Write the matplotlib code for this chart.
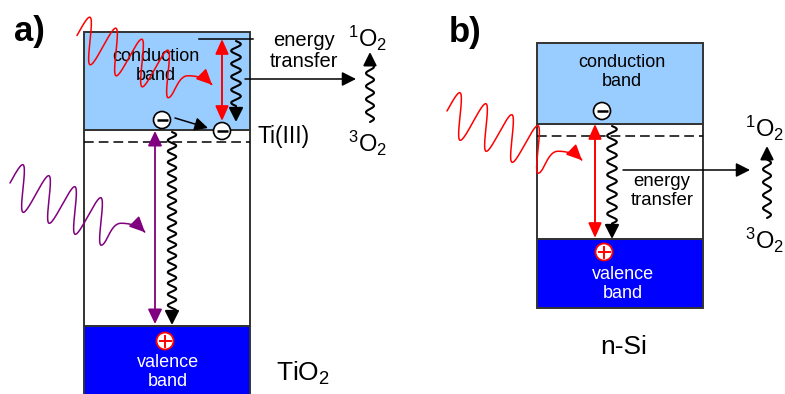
# band diagrams: TiO2 (a) vs n-Si (b), singlet oxygen generation
import numpy as np
import matplotlib.pyplot as plt
from matplotlib.patches import Rectangle, Circle, FancyArrowPatch, ArrowStyle
from matplotlib.path import Path

plt.rcParams['font.family'] = ['Liberation Sans', 'DejaVu Sans']
plt.rcParams['mathtext.fontset'] = 'custom'
plt.rcParams['mathtext.rm'] = 'Liberation Sans'
plt.rcParams['mathtext.it'] = 'Liberation Sans:italic'
plt.rcParams['mathtext.bf'] = 'Liberation Sans:bold'
plt.rcParams['lines.scale_dashes'] = False

# panel data (drawing units = pixel rows/cols of the figure)
panel_labels = ['a)', 'b)']
materials = ['TiO$_2$', 'n-Si']
box_left = [84, 537]
box_right = [250, 703]
cb_top = [32, 43]
cb_bottom = [130, 124]
vb_top = [326, 239]
vb_bottom = [400, 308]
trap_level = [142, 136]
photon_colors = ['#FF0000', '#800080', '#FF0000']

CB_COLOR = '#99CCFF'
VB_COLOR = '#0000FF'
EDGE = '#333333'
RED = '#FF0000'
PURPLE = '#800080'


def head(length=8.5, width=4.3, style='-|>'):
    return ArrowStyle(style, head_length=length, head_width=width)


def arrow(ax, p0, p1, color='black', lw=1.2, style='-|>', hl=8.5, hw=4.3):
    ax.add_patch(FancyArrowPatch(p0, p1, arrowstyle=head(hl, hw, style),
                                 color=color, lw=lw, shrinkA=0, shrinkB=0,
                                 mutation_scale=1, zorder=5))


def wavy_arrow(ax, x, y_from, y_to, amp=4.5, period=12, lw=1.5, hl=8.5, hw=4.3):
    L = abs(y_to - y_from)
    sgn = np.sign(y_to - y_from)
    n = int((L - hl - 2) / (period / 2))
    s = np.linspace(0, n * period / 2, 400)
    xs = x + amp * np.sin(2 * np.pi * s / period)
    ys = y_from + sgn * s
    xs = np.append(xs, x)
    ys = np.append(ys, y_to)
    p = Path(np.column_stack([xs, ys]))
    ax.add_patch(FancyArrowPatch(path=p, arrowstyle=head(hl, hw), color='black',
                                 lw=lw, mutation_scale=1, zorder=5))


def bezier(p0, p1, p2, p3, n=60):
    t = np.linspace(0, 1, n)[:, None]
    return ((1 - t) ** 3 * np.array(p0) + 3 * (1 - t) ** 2 * t * np.array(p1)
            + 3 * (1 - t) * t ** 2 * np.array(p2) + t ** 3 * np.array(p3))


def photon(ax, x0, y0, color, P=26, D=11, A=21, ncyc=3.75):
    t = np.linspace(0, ncyc, 500)
    x = x0 + P * t + P / 4 * np.sin(2 * np.pi * t)
    y = y0 + D * t - A * np.sin(2 * np.pi * t)
    T = np.array([x[-1], y[-1]])
    seg1 = bezier(T, T + [6, 0], T + [9, -22], T + [20, -22])
    seg2 = bezier(T + [20, -22], T + [30, -22], T + [38, -19], T + [44, -13])
    pts = np.vstack([np.column_stack([x, y]), seg1[1:], seg2[1:]])
    ax.add_patch(FancyArrowPatch(path=Path(pts), arrowstyle=head(9.5, 4.5),
                                 color=color, lw=1.1, mutation_scale=1, zorder=6))


def electron(ax, x, y, r=8.5):
    ax.add_patch(Circle((x, y), r, facecolor='white', edgecolor='black', lw=1.2, zorder=7))
    ax.plot([x - 5.5, x + 5.5], [y, y], color='black', lw=1.8, zorder=8,
            solid_capstyle='butt')


def hole(ax, x, y, r=8.5):
    ax.add_patch(Circle((x, y), r, facecolor='white', edgecolor=RED, lw=1.3, zorder=7))
    ax.plot([x - 5.5, x + 5.5], [y, y], color=RED, lw=1.4, zorder=8)
    ax.plot([x, x], [y - 5.5, y + 5.5], color=RED, lw=1.4, zorder=8)


def o2_label(ax, x, y, spin):
    ax.text(x, y, r'$^{%d}\mathrm{O}_{2}$' % spin, fontsize=17, ha='center', va='center')


fig = plt.figure(figsize=(7.85, 3.94), dpi=100)
ax = fig.add_axes([0, 0, 1, 1])
ax.set_xlim(0, 785)
ax.set_ylim(394, 0)
ax.axis('off')

# band boxes
for i in range(2):
    L, R = box_left[i], box_right[i]
    W = R - L
    ax.add_patch(Rectangle((L, cb_bottom[i]), W, vb_top[i] - cb_bottom[i],
                           facecolor='white', edgecolor=EDGE, lw=1.4, zorder=1))
    ax.add_patch(Rectangle((L, cb_top[i]), W, cb_bottom[i] - cb_top[i],
                           facecolor=CB_COLOR, edgecolor=EDGE, lw=1.4, zorder=2))
    ax.add_patch(Rectangle((L, vb_top[i]), W, vb_bottom[i] - vb_top[i],
                           facecolor=VB_COLOR, edgecolor=EDGE, lw=1.4, zorder=2))
    ax.plot([L, R], [trap_level[i]] * 2, color='black', lw=1.1,
            dashes=(7, 3.6), zorder=3)

# ---- panel a ----
ax.text(29, 31, panel_labels[0], fontsize=25, fontweight='bold', ha='center', va='center')
ax.text(156, 66, 'conduction\nband', fontsize=13, ha='center', va='center',
        linespacing=1.2, zorder=4)
ax.text(168, 372, 'valence\nband', fontsize=13, ha='center', va='center',
        color='white', linespacing=1.15, zorder=4)
ax.text(303, 373, materials[0], fontsize=19, ha='center', va='center')
ax.text(258, 136, 'Ti(III)', fontsize=16.5, ha='left', va='center')
ax.text(304, 51, 'energy\ntransfer', fontsize=14.5, ha='center', va='center',
        linespacing=1.1)
ax.plot([199, 253], [39, 39], color='black', lw=1.1, zorder=4)
arrow(ax, (222, 39), (222, 121), color=RED, lw=1.4, style='<|-|>', hl=9, hw=4.0)
wavy_arrow(ax, 236, 41, 122, amp=4.8, period=13)
arrow(ax, (245, 79), (356, 79), lw=1.1)
o2_label(ax, 368, 38, 1)
o2_label(ax, 368, 143, 3)
wavy_arrow(ax, 370, 122, 52, amp=4, period=13, hl=8, hw=4)
electron(ax, 162, 120)
electron(ax, 222, 131)
arrow(ax, (175, 118), (208, 128), lw=1.1, hl=8, hw=4)
arrow(ax, (155, 324), (155, 131), color=PURPLE, lw=1.3, style='<|-|>', hl=9, hw=4.3)
wavy_arrow(ax, 172, 132, 325, amp=4.2, period=11)
hole(ax, 165, 341)
photon(ax, 77, 35.5, photon_colors[0])
photon(ax, 10, 183, photon_colors[1])

# ---- panel b ----
ax.text(465, 32, panel_labels[1], fontsize=25, fontweight='bold', ha='center', va='center')
ax.text(622, 72, 'conduction\nband', fontsize=13, ha='center', va='center',
        linespacing=1.2, zorder=4)
ax.text(623, 284, 'valence\nband', fontsize=13, ha='center', va='center',
        color='white', linespacing=1.2, zorder=4)
ax.text(624, 347, materials[1], fontsize=19, ha='center', va='center')
ax.text(662, 191, 'energy\ntransfer', fontsize=13.4, ha='center', va='center',
        linespacing=1.1)
electron(ax, 602, 111)
arrow(ax, (595, 238), (595, 124), color=RED, lw=1.4, style='<|-|>', hl=9, hw=4.0)
wavy_arrow(ax, 612, 126, 239, amp=4.8, period=13)
arrow(ax, (623, 170), (750, 170), lw=1.1)
o2_label(ax, 765, 128, 1)
o2_label(ax, 765, 240, 3)
wavy_arrow(ax, 767, 218, 146, amp=4, period=13, hl=8, hw=4)
hole(ax, 604, 252)
photon(ax, 447, 111, photon_colors[2])

fig.savefig('out.png', dpi=100)
plt.close(fig)
